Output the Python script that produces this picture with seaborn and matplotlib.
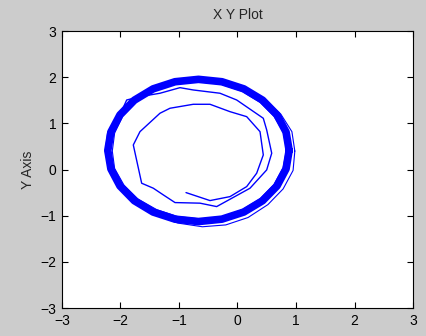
import numpy as np
import pandas as pd
import seaborn as sns
import matplotlib.pyplot as plt

# --- data: trajectory spiralling out onto the limit cycle ---
spiral_x = [-0.880, -0.470, -0.128, 0.157, 0.328, 0.441, 0.385, 0.157, -0.128, -0.470,
            -0.756, -1.154, -1.325, -1.667, -1.781, -1.638, -1.439, -1.268, -1.068, -0.641,
            -0.356, 0.214, 0.499, 0.585, 0.499, 0.441, -0.014, -0.299, -0.756, -0.983,
            -1.325, -1.667, -1.894, -2.009]
spiral_y = [-0.500, -0.673, -0.587, -0.370, -0.080, 0.316, 0.820, 1.145, 1.253, 1.413,
            1.413, 1.327, 1.219, 0.820, 0.532, -0.297, -0.405, -0.550, -0.716, -0.729,
            -0.803, -0.405, -0.009, 0.353, 0.857, 1.110, 1.506, 1.652, 1.723, 1.773,
            1.652, 1.578, 1.506, 1.183]

# main ring (many overlapping turns -> drawn thick)
ring_x = [0.883, 0.830, 0.675, 0.429, 0.108, -0.266, -0.667, -1.068, -1.442, -1.763,
          -2.009, -2.164, -2.217, -2.164, -2.009, -1.763, -1.442, -1.068, -0.667, -0.266,
          0.108, 0.429, 0.675, 0.830, 0.883]
ring_y = [0.413, 0.812, 1.183, 1.502, 1.747, 1.901, 1.953, 1.901, 1.747, 1.502,
          1.183, 0.812, 0.413, 0.014, -0.357, -0.676, -0.921, -1.075, -1.127, -1.075,
          -0.921, -0.676, -0.357, 0.014, 0.413]

# thin stray turns around the ring
outer_x = [0.98, 0.93, 0.74, 0.46, 0.12, -0.26, -0.67, -1.08, -1.46, -1.79,
           -2.05, -2.22, -2.26, -2.20, -2.02, -1.76, -1.42, -1.02, -0.60, -0.20,
           0.18, 0.52, 0.78, 0.95, 0.98]
outer_y = [0.40, 0.82, 1.20, 1.52, 1.77, 1.93, 1.97, 1.92, 1.76, 1.50,
           1.17, 0.80, 0.40, -0.02, -0.40, -0.72, -0.98, -1.16, -1.24, -1.20,
           -1.04, -0.76, -0.42, -0.02, 0.40]
inner_x = [0.84, 0.78, 0.62, 0.38, 0.07, -0.29, -0.68, -1.06, -1.42, -1.72,
           -1.96, -2.10, -2.14, -2.10, -1.94, -1.70, -1.38, -1.02, -0.64, -0.26,
           0.08, 0.38, 0.62, 0.78, 0.84]
inner_y = [0.44, 0.82, 1.16, 1.46, 1.70, 1.85, 1.90, 1.86, 1.71, 1.47,
           1.16, 0.79, 0.40, 0.02, -0.34, -0.64, -0.87, -1.02, -1.07, -1.02,
           -0.87, -0.64, -0.33, 0.04, 0.44]

ticks = [-3, -2, -1, 0, 1, 2, 3]

# --- figure ---
sns.set_style("ticks")
plt.rcParams['font.family'] = ['Liberation Sans', 'DejaVu Sans']
plt.rcParams['lines.solid_joinstyle'] = 'round'
plt.rcParams['lines.solid_capstyle'] = 'round'

fig = plt.figure(figsize=(4.26, 3.36), dpi=100, facecolor='#cccccc')
ax = fig.add_axes([0.1455, 0.0833, 0.824, 0.8244])
ax.set_facecolor('white')

blue = '#0000ff'
sns.lineplot(x=spiral_x, y=spiral_y, sort=False, estimator=None, color=blue, lw=1.0, ax=ax)
sns.lineplot(x=outer_x, y=outer_y, sort=False, estimator=None, color=blue, lw=0.8, ax=ax)
sns.lineplot(x=inner_x, y=inner_y, sort=False, estimator=None, color=blue, lw=0.8, ax=ax)
sns.lineplot(x=ring_x, y=ring_y, sort=False, estimator=None, color=blue, lw=5.5, ax=ax)

ax.set_xlim(-3, 3)
ax.set_ylim(-3, 3)
ax.set_xticks(ticks)
ax.set_yticks(ticks)
ax.tick_params(direction='in', length=4, width=0.8, top=True, right=True,
               labelsize=10, colors='black', pad=4)
for s in ax.spines.values():
    s.set_visible(True)
    s.set_linewidth(0.8)
    s.set_color('black')

ax.set_title('X Y Plot', fontsize=10, pad=9)
ax.set_ylabel('Y Axis', fontsize=10, labelpad=4)
ax.set_xlabel('')

fig.savefig('out.png', dpi=100, facecolor=fig.get_facecolor())
